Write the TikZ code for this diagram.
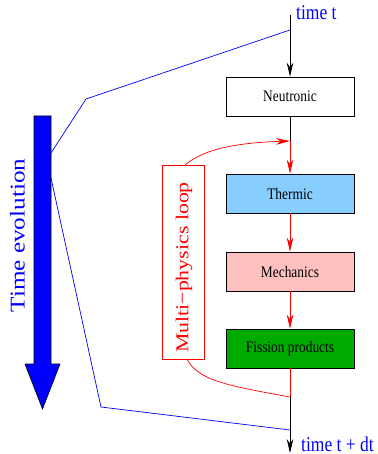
\documentclass[tikz,border=0pt]{standalone}
\usepackage{graphicx}
\usepackage{fontspec}
\setmainfont{Liberation Serif}
\usetikzlibrary{arrows.meta}
\definecolor{thermblue}{RGB}{135,206,255}
\definecolor{mechpink}{RGB}{255,192,192}
\definecolor{fissgreen}{RGB}{0,170,0}
\definecolor{tblue}{RGB}{0,0,255}
\definecolor{lred}{RGB}{255,0,0}
\newcommand{\vstretch}[1]{\scalebox{1}[1.2]{#1}}
\newcommand{\lstretch}[1]{\scalebox{1.2}[1]{#1}}
\tikzset{
  stepbox/.style={draw=black, line width=0.8pt, minimum width=128pt, minimum height=39pt,
    inner sep=0pt, font=\fontsize{13.4}{16}\selectfont},
  tiparrow/.style={-{Stealth[length=14pt,width=6.5pt,inset=4.5pt]}},
  blackflow/.style={draw=black, line width=0.7pt},
  redflow/.style={draw=lred, line width=0.7pt},
  blueline/.style={draw=tblue, line width=0.7pt},
  timelabel/.style={text=tblue, inner sep=0pt, font=\fontsize{17.5}{20}\selectfont},
}
\begin{document}
\begin{tikzpicture}[x=1pt,y=-1pt]
\useasboundingbox (0,0) rectangle (377,454);

% main flow nodes
\node[stepbox, fill=white] (neu) at (290,96.5) {\vstretch{Neutronic}};
\node[stepbox, fill=thermblue] (the) at (290,193.5) {\vstretch{Thermic}};
\node[stepbox, fill=mechpink] (mec) at (290,271.5) {\vstretch{Mechanics}};
\node[stepbox, fill=fissgreen] (fis) at (290,348.5) {\vstretch{Fission products}};

% loop box
\node[draw=lred, line width=0.7pt, fill=white, minimum width=42pt, minimum height=194pt, inner sep=0pt] (loop) at (183,262) {};
\node[text=lred, inner sep=0pt, rotate=90, font=\fontsize{18.2}{22}\selectfont] (looptext) at (184,267.5) {\lstretch{Multi−physics loop}};

% coordinates on the time axis
\coordinate (ttop) at (290,15);
\coordinate (j1) at (290,141);
\coordinate (j2) at (290,397);
\coordinate (tbot) at (290,453);
\coordinate (looptop) at (185,165);
\coordinate (loopbot) at (187,359);

% time labels
\node[timelabel, anchor=base west] (tlab) at (296,20) {\vstretch{time t}};
\node[timelabel, anchor=base west] (tdlab) at (301,451) {\vstretch{time t + dt}};

% black flow
\draw[blackflow, tiparrow] (ttop) -- (neu.north);
\draw[blackflow] (neu.south) -- (j1);
\draw[blackflow, tiparrow] (j2) -- (tbot);

% red flow
\draw[redflow, tiparrow] (j1) -- (the.north);
\draw[redflow, tiparrow] (the.south) -- (mec.north);
\draw[redflow, tiparrow] (mec.south) -- (fis.north);
\draw[redflow] (fis.south) -- (j2);
\draw[redflow, tiparrow] (looptop) .. controls (203,150) and (232,143) .. (j1);
\draw[redflow] (loopbot) .. controls (198,381) and (230,386) .. (j2);

% big blue arrow
\draw[fill=tblue, draw=black, line width=0.6pt]
  (34,116) -- (51,116) -- (51,364) -- (60,364) -- (42.5,409) -- (25,364) -- (34,364) -- cycle;
\node[text=tblue, inner sep=0pt, rotate=90, font=\fontsize{21}{25}\selectfont] (tevo) at (17.5,235.5) {\lstretch{Time evolution}};

% blue bracket lines
\coordinate (ua) at (290,30);
\coordinate (ub) at (86,99);
\coordinate (uc) at (51,153);
\coordinate (la) at (51,178);
\coordinate (lb) at (101,407);
\coordinate (lc) at (290,430);
\draw[blueline] (ua) -- (ub) -- (uc);
\draw[blueline] (la) -- (lb) -- (lc);
\end{tikzpicture}
\end{document}
